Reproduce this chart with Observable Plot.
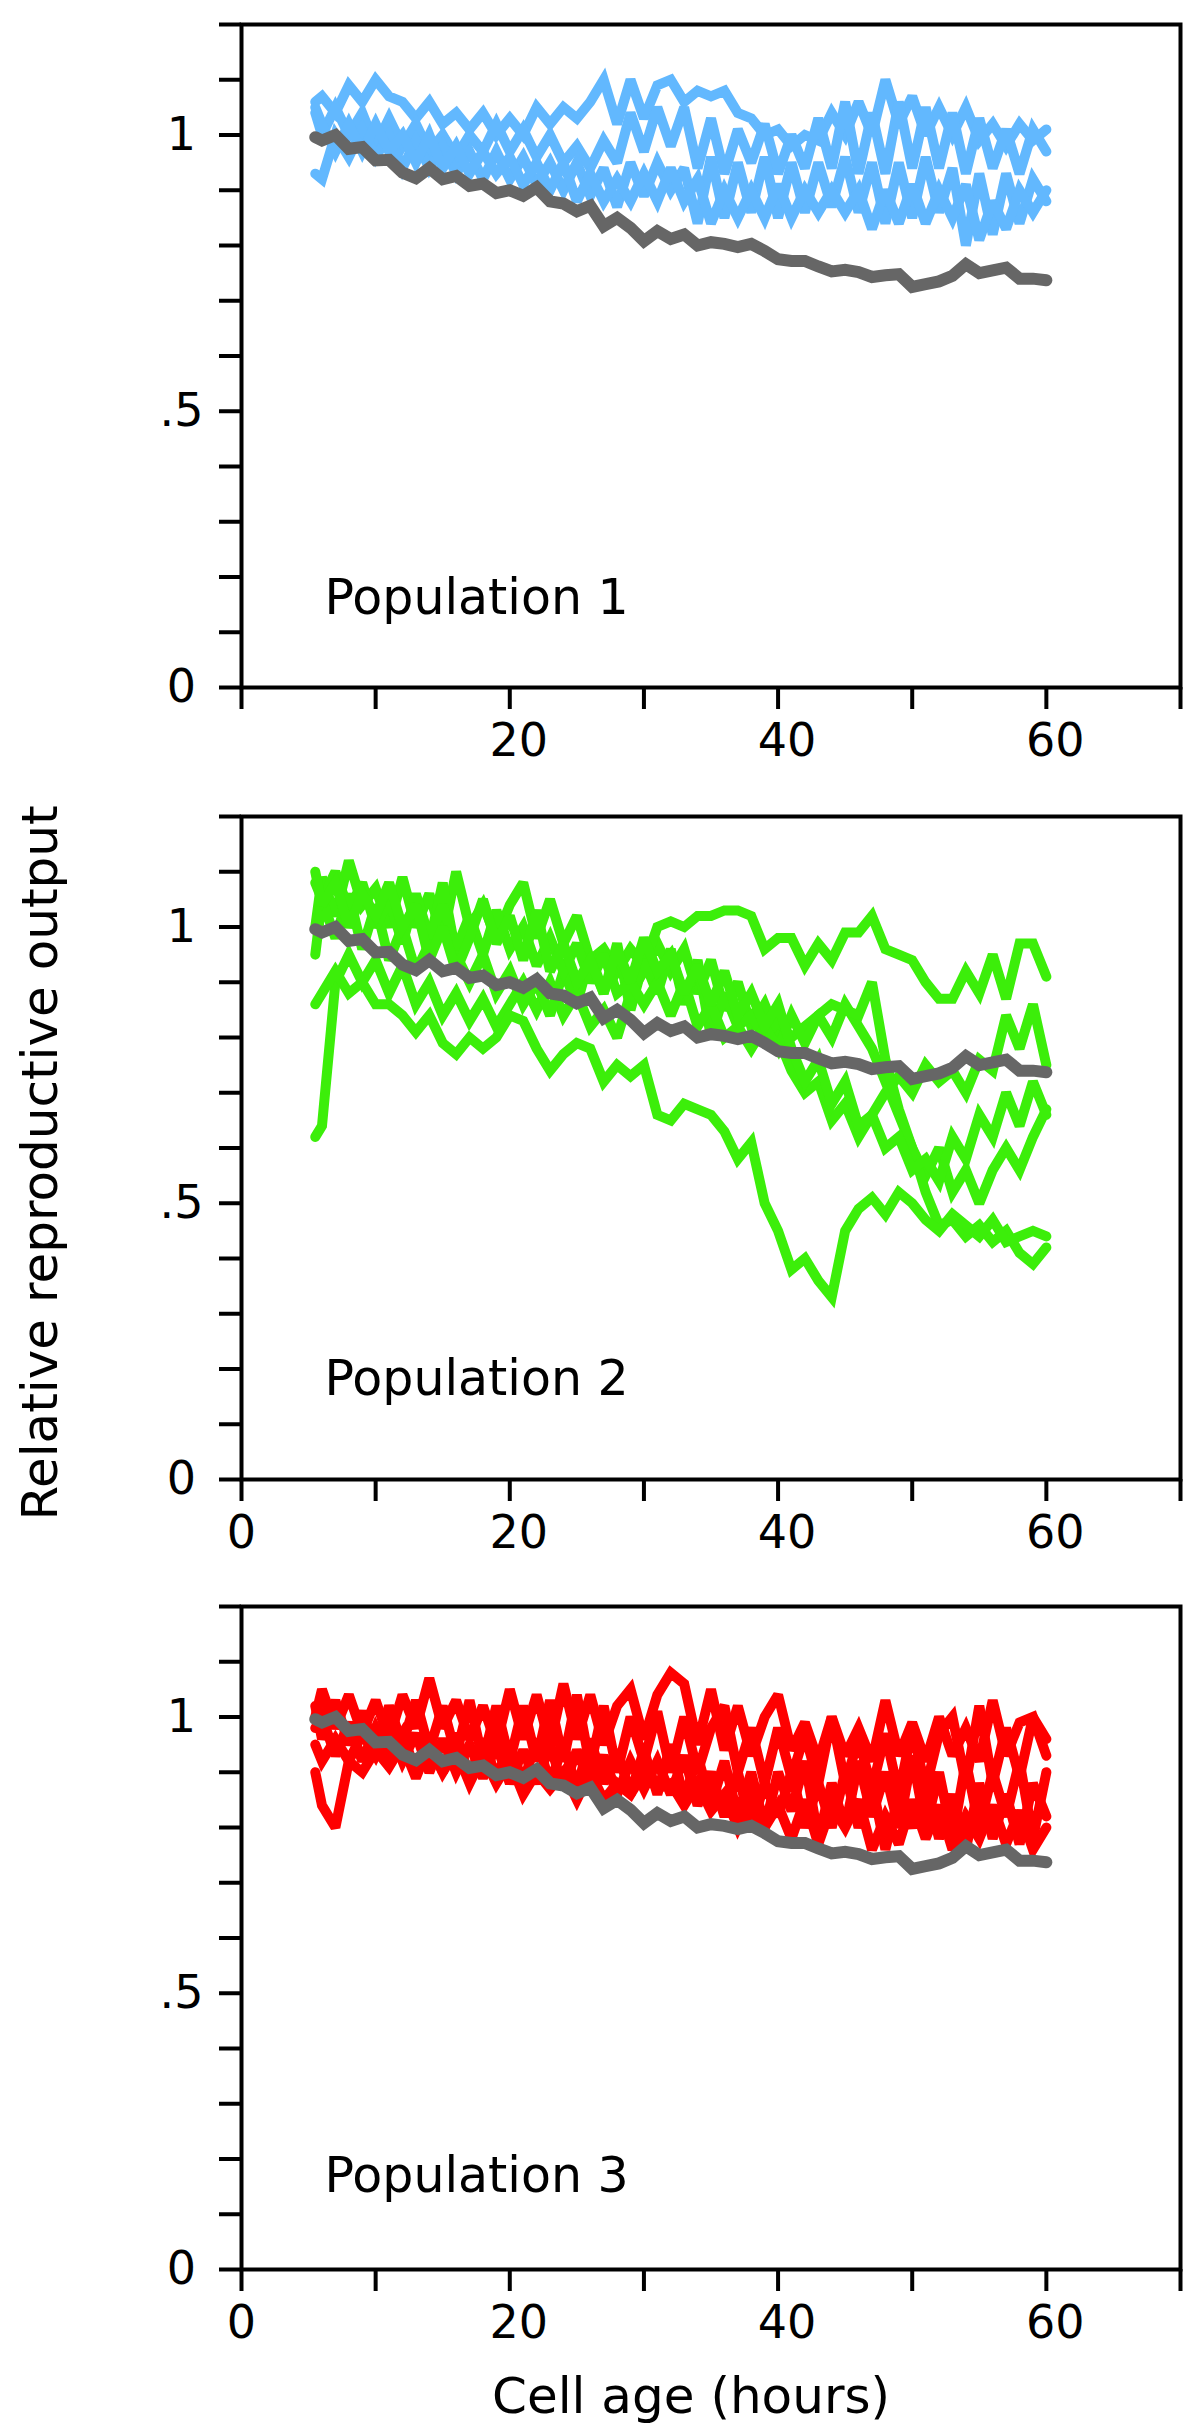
<!DOCTYPE html>
<html>
<head>
<meta charset="utf-8">
<script src="https://cdn.jsdelivr.net/npm/d3@7"></script>
<script src="https://cdn.jsdelivr.net/npm/@observablehq/plot@0.6"></script>
<style>
  html, body { margin: 0; padding: 0; background: #fff; }
  #wrap { position: relative; width: 1200px; height: 2436px; overflow: hidden; }
  .panel { position: absolute; left: 0; }
  .panel svg { overflow: visible; }
</style>
</head>
<body>
<div id="wrap"></div>
<script>
// ---------- data ----------
const hours = [5.5,6,7,8,9,10,11,12,13,14,15,16,17,18,19,20,21,22,23,24,25,26,27,28,29,30,31,32,33,34,35,36,37,38,39,40,41,42,43,44,45,46,47,48,49,50,51,52,53,54,55,56,57,58,59,60];

// mean reference curve (grey), identical in every panel
const grayRef = [0.996,0.99,1.0,0.975,0.978,0.954,0.955,0.932,0.922,0.94,
  0.92,0.926,0.908,0.912,0.895,0.9,0.89,0.905,0.88,0.876,
  0.862,0.872,0.835,0.85,0.832,0.808,0.826,0.812,0.82,0.8,
  0.806,0.803,0.797,0.803,0.79,0.775,0.772,0.772,0.762,0.753,
  0.756,0.752,0.743,0.746,0.748,0.725,0.73,0.735,0.745,0.766,
  0.75,0.755,0.76,0.74,0.74,0.737];

// Population 1 (blue)
const pop1A = [1.06,1.07,1.04,1.09,1.06,1.10,1.07,1.06,1.03,1.06,
  1.02,1.04,1.01,1.04,1.0,1.03,1.0,1.05,1.02,1.05,
  1.03,1.06,1.1,1.02,1.1,1.03,1.09,1.1,1.06,1.08,
  1.07,1.08,1.04,1.03,1.0,1.01,0.98,1.0,0.99,1.04,
  1.0,1.06,1.0,1.1,1.02,1.07,1.0,1.05,1.0,1.05,
  0.99,1.02,0.98,1.02,0.99,1.01];
const pop1B = [1.04,1.0,1.05,1.0,1.04,0.98,1.03,0.98,1.02,0.97,
  1.0,0.96,1.0,0.97,1.02,0.97,1.01,0.96,1.0,0.95,
  0.98,0.94,0.99,0.95,1.04,0.97,1.05,0.98,1.05,0.94,
  1.03,0.93,1.01,0.95,1.02,0.93,1.0,0.94,1.03,0.94,
  1.06,0.93,1.04,0.93,1.06,0.94,1.05,0.94,1.04,0.93,
  1.03,0.94,1.01,0.93,1.01,0.97];
const pop1C = [0.93,0.92,1.0,0.96,1.01,0.96,1.0,0.94,0.99,0.94,
  0.98,0.93,0.97,0.92,0.97,0.92,0.96,0.91,0.95,0.9,
  0.95,0.89,0.94,0.87,0.95,0.89,0.95,0.9,0.94,0.84,
  0.96,0.85,0.95,0.86,0.96,0.85,0.95,0.86,0.95,0.87,
  0.96,0.86,0.95,0.84,0.95,0.85,0.96,0.86,0.94,0.8,
  0.93,0.82,0.93,0.84,0.92,0.88];
const pop1D = [1.05,1.02,0.97,1.02,0.97,1.02,0.97,1.0,0.95,1.0,
  0.94,0.98,0.93,0.97,0.93,0.96,0.91,0.95,0.9,0.95,
  0.88,0.93,0.88,0.92,0.88,0.93,0.88,0.94,0.88,0.92,
  0.84,0.9,0.85,0.9,0.85,0.91,0.85,0.9,0.86,0.9,
  0.86,0.9,0.83,0.9,0.84,0.91,0.84,0.9,0.85,0.91,
  0.81,0.88,0.83,0.9,0.86,0.9];

// Population 2 (green)
const pop2A = [0.62,0.64,0.9,0.95,0.9,0.94,0.88,0.93,0.86,0.9,
  0.84,0.88,0.83,0.87,0.82,0.86,0.9,0.85,0.9,0.84,
  0.88,0.82,0.85,0.8,0.88,0.92,0.97,0.92,0.96,0.88,
  0.94,0.85,0.9,0.82,0.86,0.8,0.74,0.7,0.72,0.65,
  0.68,0.62,0.66,0.7,0.73,0.7,0.75,0.72,0.74,0.7,
  0.76,0.74,0.84,0.78,0.86,0.75];
const pop2B = [1.0,1.09,1.02,1.12,1.04,1.07,1.0,1.09,1.0,1.06,
  0.98,1.1,1.0,1.04,0.98,1.04,1.08,0.98,1.05,0.97,
  1.02,0.94,0.96,0.92,0.96,0.93,1.0,1.01,1.0,1.02,
  1.02,1.03,1.03,1.02,0.96,0.98,0.98,0.93,0.97,0.94,
  0.99,0.99,1.02,0.96,0.95,0.94,0.9,0.87,0.87,0.92,
  0.88,0.95,0.87,0.97,0.97,0.91];
const pop2C = [0.95,1.05,0.98,1.06,0.96,1.04,0.94,1.0,0.92,0.97,
  1.08,0.95,0.9,0.95,0.88,0.92,0.86,0.9,0.84,0.92,
  0.86,0.95,0.88,0.97,0.85,0.94,0.88,0.96,0.86,0.94,
  0.8,0.88,0.82,0.84,0.8,0.83,0.8,0.82,0.84,0.8,
  0.86,0.82,0.78,0.72,0.66,0.6,0.55,0.6,0.52,0.56,
  0.5,0.56,0.6,0.56,0.62,0.67];
const pop2D = [1.08,1.05,1.1,1.03,1.08,1.0,1.05,0.97,1.06,0.98,
  1.04,0.96,1.02,0.95,1.03,0.96,1.0,0.93,0.98,0.92,
  0.97,0.9,0.95,0.88,0.9,0.86,0.9,0.84,0.9,0.82,
  0.86,0.8,0.82,0.78,0.82,0.78,0.84,0.79,0.84,0.86,
  0.85,0.84,0.9,0.76,0.67,0.6,0.52,0.46,0.47,0.44,
  0.46,0.43,0.45,0.41,0.39,0.42];
const pop2E = [0.86,0.88,0.92,0.88,0.9,0.86,0.86,0.84,0.81,0.84,
  0.79,0.77,0.8,0.78,0.8,0.84,0.83,0.78,0.74,0.77,
  0.79,0.78,0.72,0.75,0.73,0.75,0.66,0.65,0.68,0.67,
  0.66,0.63,0.58,0.61,0.5,0.45,0.38,0.4,0.36,0.33,
  0.45,0.49,0.51,0.48,0.52,0.5,0.47,0.45,0.48,0.46,
  0.44,0.47,0.43,0.44,0.45,0.44];
const pop2F = [1.1,1.04,1.08,1.0,1.06,1.02,1.08,1.0,1.04,0.94,
  1.0,0.92,0.98,1.05,0.97,1.02,0.94,1.03,0.92,0.97,
  0.9,0.94,0.88,0.96,0.9,0.98,0.92,0.95,0.88,0.93,
  0.86,0.92,0.84,0.88,0.82,0.86,0.78,0.72,0.76,0.68,
  0.72,0.64,0.66,0.6,0.62,0.56,0.58,0.54,0.62,0.58,
  0.66,0.62,0.7,0.64,0.72,0.66];

// Population 3 (red)
const pop3A = [1.0,1.05,0.98,1.04,0.97,1.03,0.96,1.04,0.98,1.07,
  0.98,1.03,0.96,1.02,0.95,1.05,0.96,1.04,0.95,1.06,
  0.96,1.04,0.95,1.02,1.05,0.96,1.04,1.08,1.06,0.95,
  1.05,0.94,1.02,0.93,1.0,1.04,0.94,0.99,0.92,1.0,
  0.93,0.98,0.92,1.03,0.93,0.99,0.92,1.0,0.93,0.98,
  0.92,1.03,0.93,0.99,1.0,0.93];
const pop3B = [1.02,0.96,1.03,0.95,1.01,0.94,1.02,0.95,1.03,0.94,
  1.02,0.93,1.03,0.92,1.02,0.92,1.02,0.92,1.03,0.92,
  1.04,0.91,1.02,0.9,1.0,0.92,1.01,0.9,1.0,0.9,
  0.98,1.02,0.9,0.98,0.88,0.98,0.89,0.97,0.88,1.0,
  0.88,0.96,0.87,0.97,0.86,0.98,0.87,0.97,1.0,0.88,
  1.02,0.88,0.98,0.89,1.0,0.96];
const pop3C = [0.98,1.0,0.93,0.99,0.92,0.98,0.93,0.97,0.9,0.96,
  0.9,0.97,0.89,0.96,0.89,0.95,0.88,0.96,0.88,0.95,
  0.87,0.96,0.88,0.94,0.86,0.94,0.86,0.95,0.85,0.93,
  0.84,0.92,0.82,0.9,0.8,0.9,0.83,0.92,0.78,0.88,
  0.8,0.92,0.82,0.9,0.8,0.93,0.8,0.9,0.78,0.92,
  0.8,0.9,0.82,0.92,0.78,0.9];
const pop3D = [0.9,0.84,0.8,0.92,0.9,0.94,0.91,0.95,0.89,0.95,
  0.9,0.94,0.88,0.93,0.88,0.92,0.86,0.9,0.87,0.9,
  0.85,0.9,0.85,0.88,0.86,0.9,0.87,0.88,0.84,0.88,
  0.83,0.86,0.8,0.85,0.8,0.84,0.78,0.85,0.77,0.84,
  0.8,0.85,0.76,0.82,0.77,0.85,0.78,0.84,0.76,0.82,
  0.78,0.84,0.77,0.83,0.76,0.8];
const pop3E = [0.95,0.92,0.96,0.92,0.97,0.93,0.98,0.92,0.97,0.9,
  0.96,0.9,0.95,0.89,0.95,0.88,0.94,0.88,0.95,0.87,
  0.94,0.88,0.93,0.86,0.92,0.87,0.92,0.86,0.93,0.84,
  0.9,0.82,0.9,0.8,0.88,0.82,0.9,0.8,0.88,0.8,
  0.9,0.8,0.88,0.76,0.86,0.8,0.88,0.78,0.86,0.76,
  0.88,0.78,0.86,0.77,0.88,0.82];

const populationLabels = ["Population 1", "Population 2", "Population 3"];
const populationColors = ["#62b8fe", "#3cee0a", "#fe0000"];
const referenceColor = "#666666";
const yTicks = [0,0.1,0.2,0.3,0.4,0.5,0.6,0.7,0.8,0.9,1.0,1.1,1.2];
const yTickLabels = ["0","","","","",".5","","","","","1","",""];
const xTicks = [0,10,20,30,40,50,60,70];
const xLabelTicks = [20,40,60];
const xZeroTick = [0];
const yTitle = "Relative reproductive output";
const xTitle = "Cell age (hours)";

// ---------- drawing ----------
const FONT = "'DejaVu Sans', Verdana, sans-serif";

function longForm(seriesList) {
  const rows = [];
  seriesList.forEach((vals, k) => vals.forEach((v, i) => rows.push({hour: hours[i], value: v, run: k})));
  return rows;
}
const refRows = grayRef.map((v, i) => ({hour: hours[i], value: v}));

function panel(opts) {
  const {series, color, label, withZero, height, marginBottom, labelDy, extraMarks = []} = opts;
  return Plot.plot({
    width: 1200,
    height,
    marginLeft: 241,
    marginRight: 20,
    marginTop: 24,
    marginBottom,
    x: {domain: [0, 70]},
    y: {domain: [0, 1.2]},
    style: {fontFamily: FONT, fontSize: "46px", color: "#000", background: "transparent", overflow: "visible"},
    marks: [
      Plot.line(longForm(series), {x: "hour", y: "value", z: "run", stroke: color,
        strokeWidth: 10, strokeLinejoin: "miter", strokeMiterlimit: 2.5}),
      Plot.line(refRows, {x: "hour", y: "value", stroke: referenceColor, strokeWidth: 12,
        strokeLinejoin: "miter", strokeMiterlimit: 2}),
      Plot.frame({stroke: "#000", strokeWidth: 4}),
      Plot.axisY({ticks: yTicks, tickSize: 22, tickPadding: 38, textAnchor: "middle", strokeWidth: 4,
        tickFormat: d => yTickLabels[yTicks.indexOf(d)], label: null, fontSize: 46}),
      Plot.axisX({ticks: xTicks, tickSize: 22, strokeWidth: 4, tickFormat: () => "", label: null}),
      Plot.axisX({ticks: xLabelTicks, tickSize: 0, tickPadding: 36, dx: 9, label: null, fontSize: 46}),
      ...(withZero ? [Plot.axisX({ticks: xZeroTick, tickSize: 0, tickPadding: 36, label: null, fontSize: 46})] : []),
      Plot.text([label], {text: d => d, frameAnchor: "bottom-left", dx: 83, dy: labelDy,
        textAnchor: "start", lineAnchor: "bottom", fontSize: 49, fill: "#000"}),
      ...extraMarks
    ]
  });
}

const wrap = document.getElementById("wrap");
function place(svg, top) {
  const d = document.createElement("div");
  d.className = "panel";
  d.style.top = top + "px";
  d.appendChild(svg);
  wrap.appendChild(d);
}

place(panel({
  series: [pop1A, pop1B, pop1C, pop1D], color: populationColors[0], label: populationLabels[0],
  withZero: false, height: 792, marginBottom: 105, labelDy: -74
}), 0);

place(panel({
  series: [pop2A, pop2B, pop2C, pop2D, pop2E, pop2F], color: populationColors[1], label: populationLabels[1],
  withZero: true, height: 790, marginBottom: 103, labelDy: -85,
  extraMarks: [Plot.text([yTitle], {text: d => d, frameAnchor: "left", rotate: -90, dx: -201, dy: 15,
    textAnchor: "middle", lineAnchor: "middle", fontSize: 50, fill: "#000"})]
}), 792);

place(panel({
  series: [pop3A, pop3B, pop3C, pop3D, pop3E], color: populationColors[2], label: populationLabels[2],
  withZero: true, height: 854, marginBottom: 167, labelDy: -78,
  extraMarks: [Plot.text([xTitle], {text: d => d, frameAnchor: "bottom", dx: -20, dy: 143,
    textAnchor: "middle", lineAnchor: "bottom", fontSize: 50, fill: "#000"})]
}), 1582);
</script>
</body>
</html>
